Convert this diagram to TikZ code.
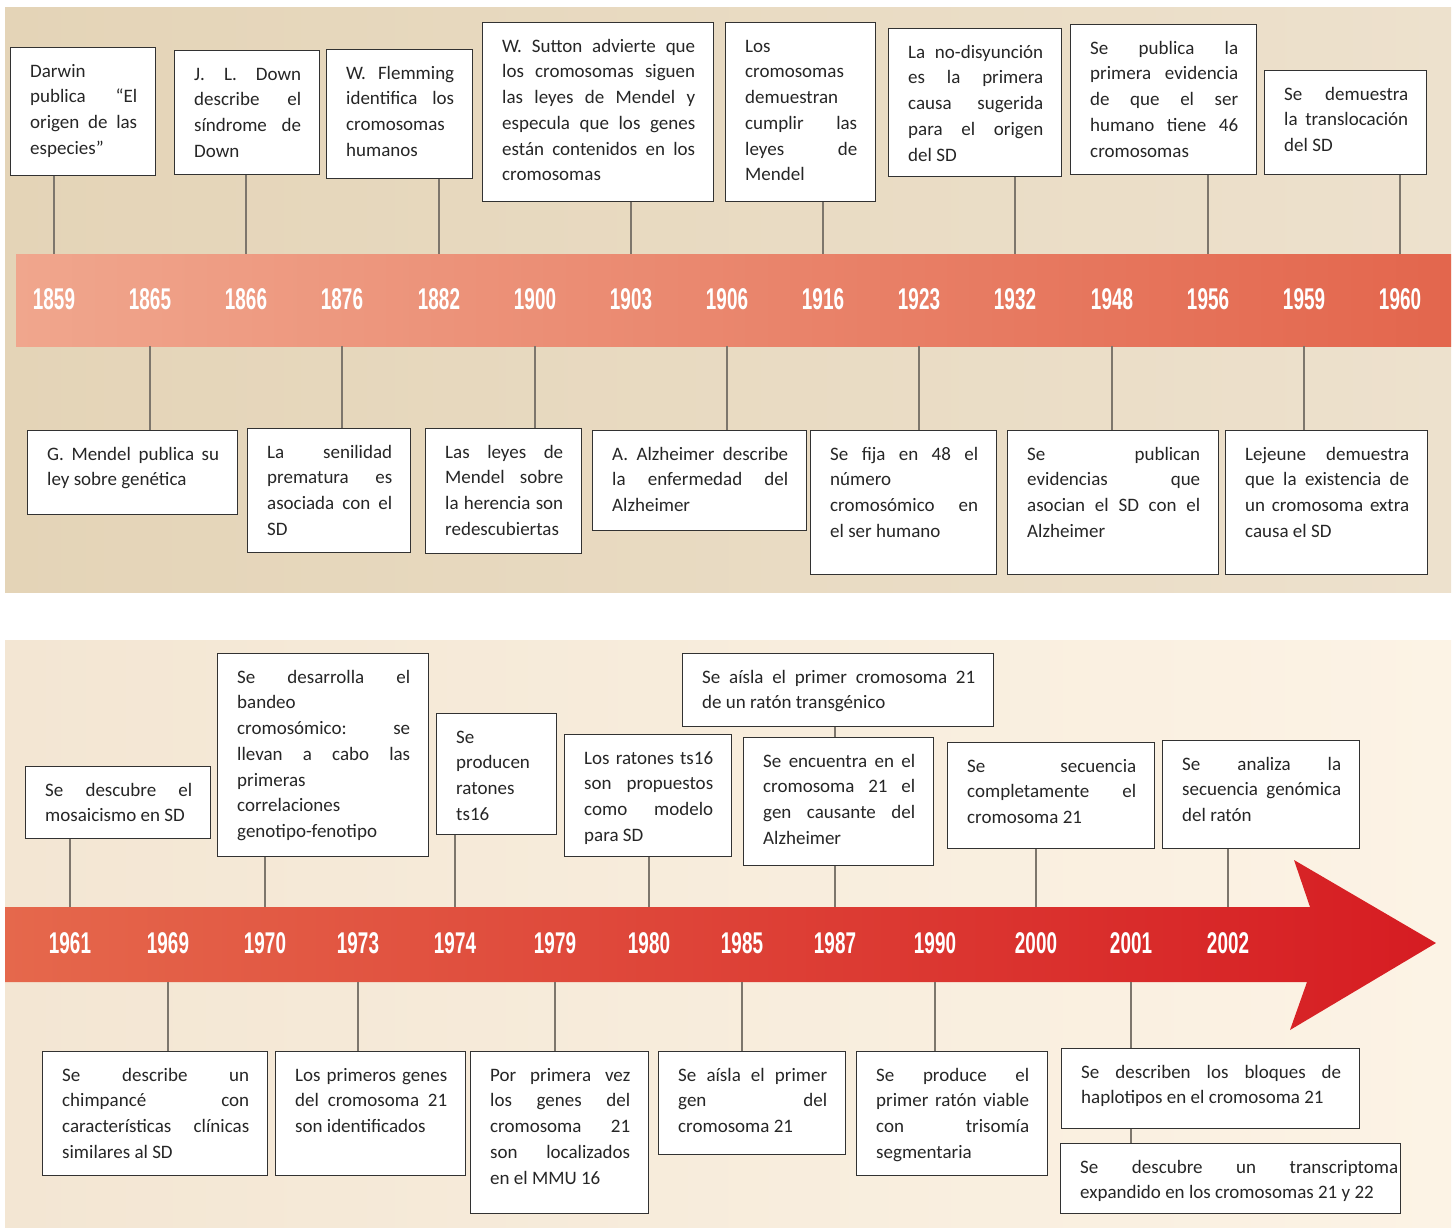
\documentclass[tikz,border=0pt]{standalone}
\usepackage{fontspec}
\setmainfont{Carlito}
\newfontfamily\yearfont[FakeStretch=0.63]{Liberation Sans}
\newcommand{\evfont}{\fontsize{19}{25.7}\selectfont\frenchspacing\hyphenpenalty=10000\exhyphenpenalty=10000}
\newcommand{\yrfont}{\yearfont\bfseries\fontsize{30}{30}\selectfont}

\definecolor{tanL}{RGB}{228,212,183}
\definecolor{tanR}{RGB}{237,225,205}
\definecolor{creamL}{RGB}{243,230,211}
\definecolor{creamR}{RGB}{252,243,229}
\definecolor{salmonL}{RGB}{240,166,141}
\definecolor{salmonR}{RGB}{227,102,77}
\definecolor{redL}{RGB}{229,104,76}
\definecolor{redR}{RGB}{214,28,34}
\definecolor{boxln}{RGB}{50,50,50}
\definecolor{stemln}{RGB}{125,118,108}

\begin{document}
\begin{tikzpicture}[x=1pt, y=-1pt,
    evbox/.style={draw=boxln, fill=white, line width=1.4pt, anchor=north west, inner sep=0pt},
    evtext/.style={anchor=north west, align=justify, inner xsep=20pt, inner ysep=12pt,
      text height=18pt, text=black!85, font=\evfont},
    yr/.style={text=white, font=\yrfont, inner sep=0pt},
    stem/.style={draw=stemln, line width=1.8pt}]
    \useasboundingbox (0,0) rectangle (1456,1227);

    % Panels
    \shade[left color=tanL, right color=tanR] (5,7) rectangle (1451,592);
    \shade[left color=creamL, right color=creamR] (5,640) rectangle (1451,1227);

    % Bands
    \shade[left color=salmonL, right color=salmonR] (16,254) rectangle (1451,346);
    \coordinate (b1n) at (16,254);
    \coordinate (b1s) at (16,346);
    \shade[left color=redL, right color=redR] (5,907) -- (1310,907) -- (1294,860) -- (1436,943)
        -- (1290,1030) -- (1307,982) -- (5,982) -- cycle;
    \coordinate (b2n) at (5,907);
    \coordinate (b2s) at (5,982);

    % Years
    \node[yr] (y1859) at (54,299) {1859};
    \node[yr] (y1865) at (150,299) {1865};
    \node[yr] (y1866) at (246,299) {1866};
    \node[yr] (y1876) at (342,299) {1876};
    \node[yr] (y1882) at (439,299) {1882};
    \node[yr] (y1900) at (535,299) {1900};
    \node[yr] (y1903) at (631,299) {1903};
    \node[yr] (y1906) at (727,299) {1906};
    \node[yr] (y1916) at (823,299) {1916};
    \node[yr] (y1923) at (919,299) {1923};
    \node[yr] (y1932) at (1015,299) {1932};
    \node[yr] (y1948) at (1112,299) {1948};
    \node[yr] (y1956) at (1208,299) {1956};
    \node[yr] (y1959) at (1304,299) {1959};
    \node[yr] (y1960) at (1400,299) {1960};

    \node[yr] (y1961) at (70,943) {1961};
    \node[yr] (y1969) at (168,943) {1969};
    \node[yr] (y1970) at (265,943) {1970};
    \node[yr] (y1973) at (358,943) {1973};
    \node[yr] (y1974) at (455,943) {1974};
    \node[yr] (y1979) at (555,943) {1979};
    \node[yr] (y1980) at (649,943) {1980};
    \node[yr] (y1985) at (742,943) {1985};
    \node[yr] (y1987) at (835,943) {1987};
    \node[yr] (y1990) at (935,943) {1990};
    \node[yr] (y2000) at (1036,943) {2000};
    \node[yr] (y2001) at (1131,943) {2001};
    \node[yr] (y2002) at (1228,943) {2002};

    % Events above, 1859-1960
    \node[evbox, minimum width=145, minimum height=128] (darwin) at (10,47) {};
    \node[evtext, text width=107] (darwin-t) at (darwin.north west) {Darwin\\ publica “El\linebreak origen de las\linebreak especies”};
    \node[evbox, minimum width=145, minimum height=124] (down) at (174,50) {};
    \node[evtext, text width=107] (down-t) at (down.north west) {J. L. Down\linebreak describe el\linebreak síndrome de\linebreak Down};
    \node[evbox, minimum width=146, minimum height=129] (flemming) at (326,49) {};
    \node[evtext, text width=108] (flemming-t) at (flemming.north west) {W. Flemming\linebreak identifica los\linebreak cromosomas\\ humanos};
    \node[evbox, minimum width=231, minimum height=179] (sutton) at (482,22) {};
    \node[evtext, text width=193] (sutton-t) at (sutton.north west) {W. Sutton advierte que\linebreak los cromosomas siguen\linebreak las leyes de Mendel y\linebreak especula que los genes\linebreak están contenidos en los\linebreak cromosomas};
    \node[evbox, minimum width=150, minimum height=179] (leyes) at (725,22) {};
    \node[evtext, text width=112] (leyes-t) at (leyes.north west) {Los\\ cromosomas\\ demuestran\\ cumplir las\linebreak leyes de\linebreak Mendel};
    \node[evbox, minimum width=173, minimum height=148] (nodisy) at (888,28) {};
    \node[evtext, text width=135] (nodisy-t) at (nodisy.north west) {La no-disyunción\linebreak es la primera\linebreak causa sugerida\linebreak para el origen\linebreak del SD};
    \node[evbox, minimum width=186, minimum height=150] (cuarenta6) at (1070,24) {};
    \node[evtext, text width=148] (cuarenta6-t) at (cuarenta6.north west) {Se publica la\linebreak primera evidencia\linebreak de que el ser\linebreak humano tiene 46\linebreak cromosomas};
    \node[evbox, minimum width=162, minimum height=104] (transloc) at (1264,70) {};
    \node[evtext, text width=124] (transloc-t) at (transloc.north west) {Se demuestra\linebreak la translocación\linebreak del SD};

    % Events below, 1865-1959
    \node[evbox, minimum width=210, minimum height=84] (mendel) at (27,430) {};
    \node[evtext, text width=172] (mendel-t) at (mendel.north west) {G. Mendel publica su\linebreak ley sobre genética};
    \node[evbox, minimum width=163, minimum height=124] (senil) at (247,428) {};
    \node[evtext, text width=125] (senil-t) at (senil.north west) {La senilidad\linebreak prematura es\linebreak asociada con el\linebreak SD};
    \node[evbox, minimum width=156, minimum height=125] (redesc) at (425,428) {};
    \node[evtext, text width=118] (redesc-t) at (redesc.north west) {Las leyes de\linebreak Mendel sobre\linebreak la herencia son\linebreak redescubiertas};
    \node[evbox, minimum width=214, minimum height=100] (alzh) at (592,430) {};
    \node[evtext, text width=176] (alzh-t) at (alzh.north west) {A. Alzheimer describe\linebreak la enfermedad del\linebreak Alzheimer};
    \node[evbox, minimum width=186, minimum height=144] (fija) at (810,430) {};
    \node[evtext, text width=148] (fija-t) at (fija.north west) {Se fija en 48 el\linebreak número\\ cromosómico en\linebreak el ser humano};
    \node[evbox, minimum width=211, minimum height=144] (asocian) at (1007,430) {};
    \node[evtext, text width=173] (asocian-t) at (asocian.north west) {Se publican\linebreak evidencias que\linebreak asocian el SD con el\linebreak Alzheimer};
    \node[evbox, minimum width=202, minimum height=144] (lejeune) at (1225,430) {};
    \node[evtext, text width=164] (lejeune-t) at (lejeune.north west) {Lejeune demuestra\linebreak que la existencia de\linebreak un cromosoma extra\linebreak causa el SD};

    % Events above, 1961-2002
    \node[evbox, minimum width=185, minimum height=72] (mosaico) at (25,766) {};
    \node[evtext, text width=147] (mosaico-t) at (mosaico.north west) {Se descubre el\linebreak mosaicismo en SD};
    \node[evbox, minimum width=211, minimum height=203] (bandeo) at (217,653) {};
    \node[evtext, text width=173] (bandeo-t) at (bandeo.north west) {Se desarrolla el\linebreak bandeo\\ cromosómico: se\linebreak llevan a cabo las\linebreak primeras\\ correlaciones\\ genotipo-fenotipo};
    \node[evbox, minimum width=120, minimum height=121] (ts16a) at (436,713) {};
    \node[evtext, text width=82] (ts16a-t) at (ts16a.north west) {Se\\ producen\\ ratones\\ ts16};
    \node[evbox, minimum width=167, minimum height=122] (ts16b) at (564,734) {};
    \node[evtext, text width=129] (ts16b-t) at (ts16b.north west) {Los ratones ts16\linebreak son propuestos\linebreak como modelo\linebreak para SD};
    \node[evbox, minimum width=311, minimum height=73] (transg) at (682,653) {};
    \node[evtext, text width=273] (transg-t) at (transg.north west) {Se aísla el primer cromosoma 21\linebreak de un ratón transgénico};
    \node[evbox, minimum width=190, minimum height=128] (gencaus) at (743,737) {};
    \node[evtext, text width=152] (gencaus-t) at (gencaus.north west) {Se encuentra en el\linebreak cromosoma 21 el\linebreak gen causante del\linebreak Alzheimer};
    \node[evbox, minimum width=207, minimum height=106] (secu21) at (947,742) {};
    \node[evtext, text width=169] (secu21-t) at (secu21.north west) {Se secuencia\linebreak completamente el\linebreak cromosoma 21};
    \node[evbox, minimum width=197, minimum height=108] (raton) at (1162,740) {};
    \node[evtext, text width=159] (raton-t) at (raton.north west) {Se analiza la\linebreak secuencia genómica\linebreak del ratón};

    % Events below, 1969-2001
    \node[evbox, minimum width=225, minimum height=124] (chimp) at (42,1051) {};
    \node[evtext, text width=187] (chimp-t) at (chimp.north west) {Se describe un\linebreak chimpancé con\linebreak características clínicas\linebreak similares al SD};
    \node[evbox, minimum width=190, minimum height=124] (primgen) at (275,1051) {};
    \node[evtext, text width=152] (primgen-t) at (primgen.north west) {Los primeros genes\linebreak del cromosoma 21\linebreak son identificados};
    \node[evbox, minimum width=178, minimum height=162] (mmu) at (470,1051) {};
    \node[evtext, text width=140] (mmu-t) at (mmu.north west) {Por primera vez\linebreak los genes del\linebreak cromosoma 21\linebreak son localizados\linebreak en el MMU 16};
    \node[evbox, minimum width=187, minimum height=103] (gen21) at (658,1051) {};
    \node[evtext, text width=149] (gen21-t) at (gen21.north west) {Se aísla el primer\linebreak gen del\linebreak cromosoma 21};
    \node[evbox, minimum width=191, minimum height=124] (viable) at (856,1051) {};
    \node[evtext, text width=153] (viable-t) at (viable.north west) {Se produce el\linebreak primer ratón viable\linebreak con trisomía\linebreak segmentaria};
    \node[evbox, minimum width=298, minimum height=80] (haplo) at (1061,1048) {};
    \node[evtext, text width=260] (haplo-t) at (haplo.north west) {Se describen los bloques de\linebreak haplotipos en el cromosoma 21};
    \node[evbox, minimum width=340, minimum height=70] (transc) at (1060,1143) {};
    \node[evtext, text width=318] (transc-t) at (transc.north west) {Se descubre un transcriptoma\linebreak expandido en los cromosomas 21 y 22};

    % Stems
    \draw[stem] (darwin.south -| y1859) -- (y1859 |- b1n);
    \draw[stem] (down.south -| y1866) -- (y1866 |- b1n);
    \draw[stem] (flemming.south -| y1882) -- (y1882 |- b1n);
    \draw[stem] (sutton.south -| y1903) -- (y1903 |- b1n);
    \draw[stem] (leyes.south -| y1916) -- (y1916 |- b1n);
    \draw[stem] (nodisy.south -| y1932) -- (y1932 |- b1n);
    \draw[stem] (cuarenta6.south -| y1956) -- (y1956 |- b1n);
    \draw[stem] (transloc.south -| y1960) -- (y1960 |- b1n);
    \draw[stem] (y1865 |- b1s) -- (mendel.north -| y1865);
    \draw[stem] (y1876 |- b1s) -- (senil.north -| y1876);
    \draw[stem] (y1900 |- b1s) -- (redesc.north -| y1900);
    \draw[stem] (y1906 |- b1s) -- (alzh.north -| y1906);
    \draw[stem] (y1923 |- b1s) -- (fija.north -| y1923);
    \draw[stem] (y1948 |- b1s) -- (asocian.north -| y1948);
    \draw[stem] (y1959 |- b1s) -- (lejeune.north -| y1959);

    \draw[stem] (mosaico.south -| y1961) -- (y1961 |- b2n);
    \draw[stem] (bandeo.south -| y1970) -- (y1970 |- b2n);
    \draw[stem] (ts16a.south -| y1974) -- (y1974 |- b2n);
    \draw[stem] (ts16b.south -| y1980) -- (y1980 |- b2n);
    \draw[stem] (transg.south -| y1987) -- (gencaus.north -| y1987);
    \draw[stem] (gencaus.south -| y1987) -- (y1987 |- b2n);
    \draw[stem] (secu21.south -| y2000) -- (y2000 |- b2n);
    \draw[stem] (raton.south -| y2002) -- (y2002 |- b2n);
    \draw[stem] (y1969 |- b2s) -- (chimp.north -| y1969);
    \draw[stem] (y1973 |- b2s) -- (primgen.north -| y1973);
    \draw[stem] (y1979 |- b2s) -- (mmu.north -| y1979);
    \draw[stem] (y1985 |- b2s) -- (gen21.north -| y1985);
    \draw[stem] (y1990 |- b2s) -- (viable.north -| y1990);
    \draw[stem] (y2001 |- b2s) -- (haplo.north -| y2001);
    \draw[stem] (haplo.south -| y2001) -- (transc.north -| y2001);
\end{tikzpicture}
\end{document}
